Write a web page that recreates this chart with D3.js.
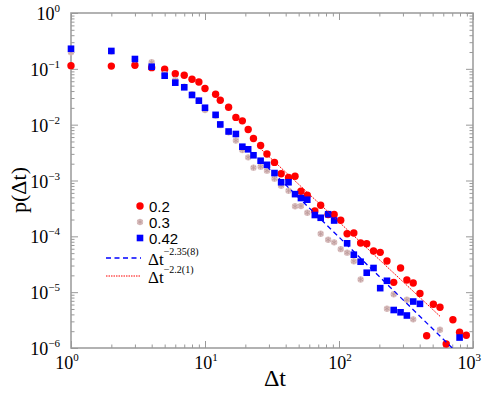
<!DOCTYPE html>
<html>
<head>
<meta charset="utf-8">
<script src="https://cdn.jsdelivr.net/npm/d3@7"></script>
<style>
  body { margin: 0; background: #fff; }
</style>
</head>
<body>
<svg id="chart" width="484" height="393"></svg>
<script>
// waiting times, shared by the three series
const dt = [1, 2, 3, 4, 5, 6, 7, 8, 9, 10, 12, 13, 15, 17, 19, 21, 23, 26, 29, 33,
  37, 42, 47, 52, 58, 66, 73, 83, 92, 103, 115, 129, 145, 161, 181, 203, 228, 256, 288, 321,
  358, 402, 451, 506, 567, 631, 708, 794, 891]

// p(dt) for 0.2 (red circles)
const p02 = [0.114, 0.112, 0.116, 0.105, 0.098, 0.082, 0.0766, 0.0649, 0.058, 0.0445,
  0.035, 0.0273, 0.0205, 0.0135, 0.0117, 0.0082, 0.00565, 0.00423, 0.00298, 0.00211,
  0.00132, 0.00113, 0.00119, 6.4e-4, 5.45e-4, 2.84e-4, 3.61e-4, 2.46e-4, 2.46e-4, 1.94e-4,
  1.11e-4, 1.15e-4, 7.6e-5, 7.4e-5, 5.46e-5, 5.17e-5, 3.61e-5, 1.5e-5, 2.71e-5, 1.65e-5,
  1.46e-5, 9.5e-6, 1.66e-6, 6.06e-6, 5.36e-6, 1.18e-6, 3.21e-6, 1.91e-6, 1.69e-6]

// p(dt) for 0.3 (pale asterisks), null = no point
const p03 = [0.198, 0.205, 0.148, 0.131, 0.08, 0.063, 0.048, 0.035, 0.027, 0.0183,
  0.0145, 0.0098, 0.0073, 0.0052, 0.00352, 0.0026, 0.0017, 0.00177, 0.0015, 0.00108,
  8.07e-4, 6.57e-4, 3.45e-4, 3.49e-4, 2.65e-4, null, 1.11e-4, 8.7e-5, 7.8e-5, 5.9e-5,
  5.1e-5, 3.58e-5, 1.69e-5, null, null, null, 5.06e-6, 9.15e-6, null, 7.3e-6,
  3.26e-6, null, null, null, 2.12e-6, null, null, null, null]

// p(dt) for 0.42 (blue squares)
const p042 = [0.229, 0.209, 0.150, 0.109, 0.0753, 0.0565, 0.0467, 0.034, 0.0269, 0.0201,
  0.015, 0.0101, 0.00755, 0.00681, 0.00403, 0.00362, 0.00283, 0.00226, 0.00191, 0.00136,
  9.3e-4, 9.3e-4, 5.7e-4, 4.85e-4, 4.53e-4, 2.41e-4, 2.15e-4, 2.49e-4, 1.92e-4, null,
  7.5e-5, 4.69e-5, 3.51e-5, 2.23e-5, 2.71e-5, 1.18e-5, 1.6e-5, 4.79e-6, 4.36e-6, 3.82e-6,
  6.8e-6, 6.18e-6, null, null, null, null, null, 1.54e-6, null]

// power-law fits, end points
const fitBlue = [[26, 2.3e-3], [700, 1.0e-6]]
const fitRed = [[25.7, 3.8e-3], [567, 3.7e-6]]

const seriesLabels = ["0.2", "0.3", "0.42"]
const fitLabels = ["\u22122.35(8)", "\u22122.2(1)"]

const c_red = "#ff0000", c_blue = "#0000ff", c_pink = "#dcc2c2", c_pink_dark = "#bd9a9a"
const axisColor = "#999"

const W = 484, H = 393
const margin = {top: 13, right: 11, bottom: 45, left: 71}

const svg = d3.select("#chart")

const x = d3.scaleLog().domain([1, 1000]).range([margin.left, W - margin.right])
const y = d3.scaleLog().domain([1e-6, 1]).range([H - margin.bottom, margin.top])

const isMajor = v => Math.abs(Math.log10(v) - Math.round(Math.log10(v))) < 1e-9

// FRAME + TICKS
function drawTicks(axisFn, scale, tr, values, size) {
  svg.append("g").attr("transform", tr)
    .call(axisFn(scale).tickValues(values).tickSize(-size).tickSizeOuter(0).tickFormat(""))
    .call(g => g.select(".domain").remove())
    .call(g => g.selectAll("line").attr("stroke", axisColor).attr("stroke-width", 1))
}
const xt = x.ticks(), yt = y.ticks()
const sides = [
  [d3.axisBottom, x, `translate(0,${y.range()[0]})`, xt],
  [d3.axisTop, x, `translate(0,${y.range()[1]})`, xt],
  [d3.axisLeft, y, `translate(${x.range()[0]},0)`, yt],
  [d3.axisRight, y, `translate(${x.range()[1]},0)`, yt]
]
sides.forEach(([fn, sc, tr, t]) => {
  drawTicks(fn, sc, tr, t.filter(isMajor), 7)
  drawTicks(fn, sc, tr, t.filter(v => !isMajor(v)), 3.5)
})

svg.append("rect")
  .attr("x", x.range()[0]).attr("y", y.range()[1])
  .attr("width", x.range()[1] - x.range()[0])
  .attr("height", y.range()[0] - y.range()[1])
  .attr("fill", "none").attr("stroke", axisColor).attr("stroke-width", 1.5)

// tick labels 10^n
function powLabel(sel, e) {
  sel.append("tspan").text("10")
  sel.append("tspan").attr("dy", -8).attr("font-size", 11)
    .text(e < 0 ? "\u2212" + (-e) : e)
}
const xMajor = xt.filter(isMajor)
xMajor.forEach((v, i) => {
  const last = i === xMajor.length - 1
  svg.append("text")
    .attr("x", last ? W - 3 : x(v) + (i === 0 ? -4 : 1))
    .attr("y", y.range()[0] + 21)
    .attr("text-anchor", last ? "end" : "middle")
    .attr("font-family", "'Liberation Serif', serif").attr("font-size", 18)
    .call(powLabel, Math.round(Math.log10(v)))
})
yt.filter(isMajor).forEach(v => {
  svg.append("text")
    .attr("x", 60).attr("y", y(v) + 7)
    .attr("text-anchor", "end")
    .attr("font-family", "'Liberation Serif', serif").attr("font-size", 18)
    .call(powLabel, Math.round(Math.log10(v)))
})

// axis titles
svg.append("text")
  .attr("x", 275).attr("y", 386)
  .attr("text-anchor", "middle")
  .attr("font-family", "'Liberation Serif', serif").attr("font-size", 24)
  .text("\u0394t")
svg.append("text")
  .attr("transform", "translate(26,190) rotate(-90)")
  .attr("text-anchor", "middle")
  .attr("font-family", "'Liberation Serif', serif").attr("font-size", 22)
  .text("p(\u0394t)")

// MARKERS
const asterisk = d3.symbol().type(d3.symbolAsterisk).size(22)
function pinkMark(g) {
  g.append("circle").attr("r", 3.2).attr("fill", c_pink)
  g.append("path").attr("d", asterisk()).attr("fill", "none")
    .attr("stroke", c_pink_dark).attr("stroke-width", 0.8)
}
function redMark(g) {
  g.append("circle").attr("r", 3.7).attr("fill", c_red)
}
function blueMark(g) {
  g.append("rect").attr("x", -3.3).attr("y", -3.3).attr("width", 6.6).attr("height", 6.6)
    .attr("fill", c_blue)
}

const series = [[p02, redMark], [p03, pinkMark], [p042, blueMark]]
series.forEach(([vals, mark]) => {
  dt.forEach((t, i) => {
    if (vals[i] == null) return
    svg.append("g").attr("transform", `translate(${x(t)},${y(vals[i])})`).call(mark)
  })
})

// FITS
svg.append("clipPath").attr("id", "plotclip").append("rect")
  .attr("x", x.range()[0]).attr("y", y.range()[1])
  .attr("width", x.range()[1] - x.range()[0])
  .attr("height", y.range()[0] - y.range()[1])

const line = d3.line().x(d => x(d[0])).y(d => y(d[1]))
svg.append("path").attr("d", line(fitBlue)).attr("clip-path", "url(#plotclip)")
  .attr("fill", "none").attr("stroke", c_blue).attr("stroke-width", 1.3)
  .attr("stroke-dasharray", "5,3.5")
svg.append("path").attr("d", line(fitRed)).attr("clip-path", "url(#plotclip)")
  .attr("fill", "none").attr("stroke", c_red).attr("stroke-width", 1)
  .attr("stroke-dasharray", "1.5,1")

// LEGEND
const lg = svg.append("g")
const marks = [redMark, pinkMark, blueMark]
seriesLabels.forEach((lab, i) => {
  const yy = 206 + i * 16
  lg.append("g").attr("transform", `translate(140,${yy})`).call(marks[i])
  lg.append("text").attr("x", 149).attr("y", yy + 5.5)
    .attr("font-family", "'Liberation Sans', sans-serif").attr("font-size", 15)
    .text(lab)
})
const fitStyles = [[c_blue, 1.3, "5,3.5"], [c_red, 1, "1.5,1"]]
fitLabels.forEach((lab, i) => {
  const yy = 258 + i * 18
  lg.append("line").attr("x1", 106).attr("x2", 141).attr("y1", yy).attr("y2", yy)
    .attr("stroke", fitStyles[i][0]).attr("stroke-width", fitStyles[i][1])
    .attr("stroke-dasharray", fitStyles[i][2])
  const t = lg.append("text").attr("x", 148).attr("y", yy + 7)
    .attr("font-family", "'Liberation Serif', serif").attr("font-size", 17)
  t.append("tspan").text("\u0394t")
  t.append("tspan").attr("dy", -10).attr("font-size", 10).text(lab)
})
</script>
</body>
</html>
